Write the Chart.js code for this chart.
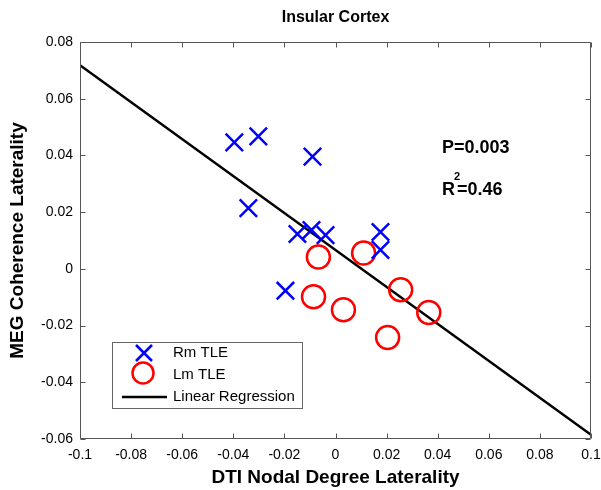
<!DOCTYPE html>
<html>
<head>
<meta charset="utf-8">
<script src="https://cdn.jsdelivr.net/npm/chart.js@4.4.1/dist/chart.umd.min.js"></script>
<style>
  html, body { margin: 0; padding: 0; background: #ffffff; }
  canvas { display: block; }
</style>
</head>
<body>
<canvas id="chart" width="601" height="490"></canvas>
<script>
// Right-onset TLE patients (blue crosses)
const rmX = [-0.0396, -0.0302, -0.0090, -0.0341, -0.0149, -0.0094, -0.0039, 0.0176, 0.0176, -0.0196];
const rmY = [0.0446, 0.0467, 0.0396, 0.0214, 0.0123, 0.0137, 0.0119, 0.0130, 0.0067, -0.0077];
// Left-onset TLE patients (red circles)
const lmX = [-0.0067, 0.0110, 0.0255, 0.0365, -0.0086, 0.0031, 0.0204];
const lmY = [0.0042, 0.0056, -0.0074, -0.0154, -0.0098, -0.0144, -0.0242];
// Regression line end points
const fitX = [-0.1, 0.1];
const fitY = [0.0718, -0.0585];

const xTickLabels = ['-0.1', '-0.08', '-0.06', '-0.04', '-0.02', '0', '0.02', '0.04', '0.06', '0.08', '0.1'];
const yTickLabels = ['-0.06', '-0.04', '-0.02', '0', '0.02', '0.04', '0.06', '0.08'];

const FONT = "'Liberation Sans', Arial, sans-serif";

const toPoints = (xs, ys) => xs.map((x, i) => ({ x: x, y: ys[i] }));

// Axis box with inward tick marks on all four sides
const frame = {
  id: 'frame',
  afterDatasetsDraw(chart) {
    const { ctx, chartArea: a, scales } = chart;
    const L = Math.round(a.left) + 0.5, R = Math.round(a.right) - 0.5;
    const T = Math.round(a.top) + 0.5, B = Math.round(a.bottom) - 0.5;
    const len = 5;
    ctx.save();
    ctx.strokeStyle = '#555555';
    ctx.lineWidth = 1;
    ctx.beginPath();
    ctx.rect(L, T, R - L, B - T);
    scales.x.ticks.forEach(t => {
      const p = Math.round(scales.x.getPixelForValue(t.value)) + 0.5;
      ctx.moveTo(p, B); ctx.lineTo(p, B - len);
      ctx.moveTo(p, T); ctx.lineTo(p, T + len);
    });
    scales.y.ticks.forEach(t => {
      const p = Math.round(scales.y.getPixelForValue(t.value)) + 0.5;
      ctx.moveTo(L, p); ctx.lineTo(L + len, p);
      ctx.moveTo(R, p); ctx.lineTo(R - len, p);
    });
    ctx.stroke();
    ctx.restore();
  }
};

// Boxed legend in the lower left of the plot
const boxLegend = {
  id: 'boxLegend',
  afterDraw(chart) {
    const ctx = chart.ctx;
    const ds = chart.data.datasets;
    const bx = 112, by = 342, bw = 191, bh = 67;
    ctx.save();
    ctx.fillStyle = '#ffffff';
    ctx.fillRect(bx, by, bw, bh);
    ctx.strokeStyle = '#666666';
    ctx.lineWidth = 1;
    ctx.strokeRect(bx + 0.5, by + 0.5, bw - 1, bh - 1);

    const rows = [353, 375, 397];
    const sx = 144, tx = 173;
    ds.forEach((d, i) => {
      const y = rows[i];
      ctx.strokeStyle = d.borderColor;
      ctx.lineWidth = d.borderWidth;
      ctx.beginPath();
      if (d.pointStyle === 'crossRot') {
        const h = 8;
        ctx.moveTo(sx - h, y - h); ctx.lineTo(sx + h, y + h);
        ctx.moveTo(sx + h, y - h); ctx.lineTo(sx - h, y + h);
      } else if (d.pointStyle === 'circle') {
        ctx.arc(sx - 1, y - 2, 10.5, 0, Math.PI * 2);
      } else {
        ctx.moveTo(122, y); ctx.lineTo(167, y);
      }
      ctx.stroke();
      ctx.fillStyle = '#000000';
      ctx.font = '15px ' + FONT;
      ctx.textAlign = 'left';
      ctx.textBaseline = 'middle';
      ctx.fillText(d.label, tx, y);
    });
    ctx.restore();
  }
};

// Statistics text
const stats = {
  id: 'stats',
  afterDraw(chart) {
    const ctx = chart.ctx;
    ctx.save();
    ctx.fillStyle = '#000000';
    ctx.textAlign = 'left';
    ctx.textBaseline = 'middle';
    ctx.font = 'bold 18px ' + FONT;
    ctx.fillText('P=0.003', 442, 148);
    ctx.fillText('R', 442, 190);
    ctx.fillText('=0.46', 457, 190);
    ctx.font = 'bold 11px ' + FONT;
    ctx.fillText('2', 454, 177);
    ctx.restore();
  }
};

new Chart(document.getElementById('chart'), {
  type: 'scatter',
  data: {
    datasets: [
      {
        label: 'Rm TLE',
        data: toPoints(rmX, rmY),
        pointStyle: 'crossRot',
        pointRadius: 12.3,
        borderColor: '#0000ff',
        backgroundColor: '#0000ff',
        borderWidth: 2.5,
        pointHoverRadius: 12.3
      },
      {
        label: 'Lm TLE',
        data: toPoints(lmX, lmY),
        pointStyle: 'circle',
        pointRadius: 11.5,
        borderColor: '#ff0000',
        backgroundColor: 'rgba(0,0,0,0)',
        borderWidth: 2.5,
        pointHoverRadius: 11.5
      },
      {
        type: 'line',
        label: 'Linear Regression',
        data: toPoints(fitX, fitY),
        borderColor: '#000000',
        borderWidth: 2.5,
        pointRadius: 0,
        fill: false,
        tension: 0
      }
    ]
  },
  options: {
    responsive: false,
    animation: false,
    events: [],
    layout: { padding: 0, autoPadding: false },
    plugins: {
      legend: { display: false },
      tooltip: { enabled: false },
      title: {
        display: true,
        text: 'Insular Cortex',
        fullSize: false,
        color: '#000000',
        font: { family: FONT, size: 16, weight: 'bold' },
        padding: { top: 8, bottom: 14.8 }
      }
    },
    scales: {
      x: {
        type: 'linear',
        min: -0.1,
        max: 0.1,
        grid: { display: false, drawTicks: false },
        border: { display: false },
        ticks: {
          stepSize: 0.02,
          autoSkip: false,
          maxRotation: 0,
          padding: 8,
          color: '#000000',
          font: { family: FONT, size: 14 },
          callback: (v, i) => xTickLabels[i]
        },
        title: {
          display: true,
          text: 'DTI Nodal Degree Laterality',
          color: '#000000',
          font: { family: FONT, size: 19, weight: 'bold' },
          padding: { top: 0, bottom: 1 }
        },
        afterFit(s) { s.height = 51; s.paddingRight = 10; s.paddingLeft = 0; }
      },
      y: {
        type: 'linear',
        min: -0.06,
        max: 0.08,
        grid: { display: false, drawTicks: false },
        border: { display: false },
        ticks: {
          stepSize: 0.02,
          autoSkip: false,
          padding: 7,
          color: '#000000',
          font: { family: FONT, size: 14 },
          callback: (v, i) => yTickLabels[i]
        },
        title: {
          display: true,
          text: 'MEG Coherence Laterality',
          color: '#000000',
          font: { family: FONT, size: 19, weight: 'bold' },
          padding: { top: 6, bottom: 0 }
        },
        afterFit(s) { s.width = 80; s.paddingTop = 0; s.paddingBottom = 0; }
      }
    }
  },
  plugins: [frame, boxLegend, stats]
});
</script>
</body>
</html>
